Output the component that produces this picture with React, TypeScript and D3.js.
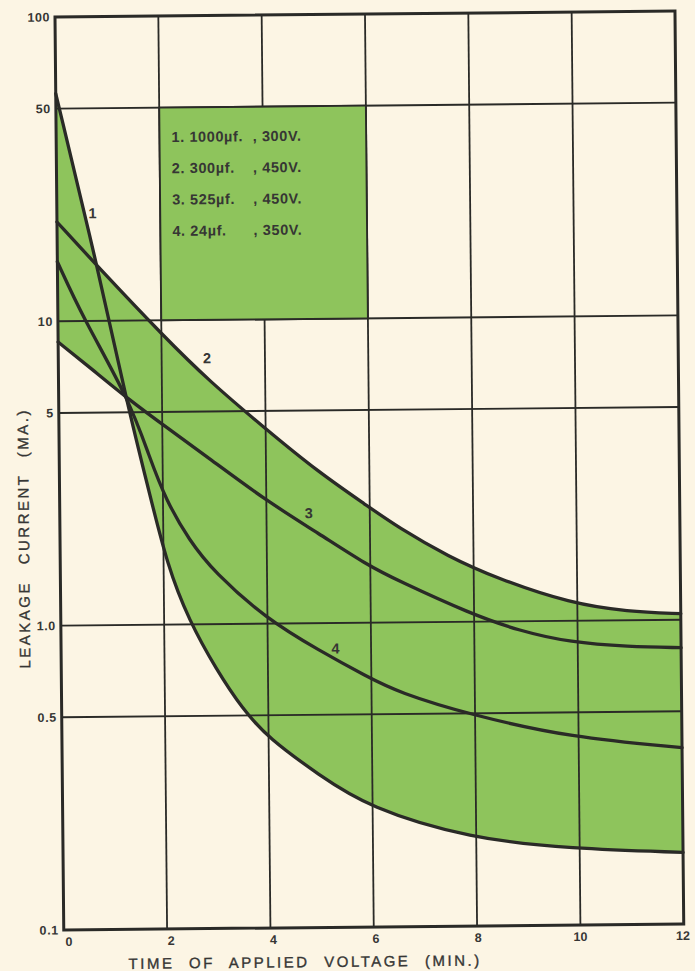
import React from "react";
import * as d3 from "d3";

// ---- data ----
const X_TICKS = [0, 2, 4, 6, 8, 10, 12];
const X_TICK_LABELS = ["0", "2", "4", "6", "8", "10", "12"];
const Y_TICKS = [100, 50, 10, 5, 1, 0.5, 0.1];
const Y_TICK_LABELS = ["100", "50", "10", "5", "1.0", "0.5", "0.1"];
const Y_GRID = [50, 10, 5, 1, 0.5];

const C1_T = [0, 0.78, 1.33, 1.74, 2.07, 2.48, 3.0, 3.5, 4.0, 4.96, 5.92, 7.88, 9.83, 12];
const C1_V = [56, 15.0, 5.28, 2.71, 1.57, 1.03, 0.71, 0.525, 0.42, 0.318, 0.247, 0.194, 0.178, 0.172];

const C2_T = [0, 0.78, 2.06, 2.92, 4.01, 5.02, 5.94, 6.55, 7.51, 8.47, 9.87, 10.97, 12];
const C2_V = [21.2, 15.1, 8.8, 6.29, 4.35, 3.13, 2.43, 2.05, 1.64, 1.38, 1.14, 1.067, 1.047];

const C3_T = [0, 0.6, 1.37, 2.08, 2.9, 3.99, 5.01, 5.93, 6.54, 7.92, 8.85, 9.87, 10.97, 12];
const C3_V = [8.55, 7.06, 5.48, 4.45, 3.51, 2.54, 1.97, 1.55, 1.37, 1.064, 0.932, 0.848, 0.819, 0.809];

const C4_T = [0, 0.48, 1.37, 1.74, 2.06, 2.5, 2.98, 3.97, 4.99, 5.91, 6.52, 7.9, 9.85, 12];
const C4_V = [15.7, 10.3, 5.48, 3.58, 2.56, 1.89, 1.48, 1.04, 0.814, 0.666, 0.589, 0.495, 0.413, 0.38];

const SERIES_T = [C1_T, C2_T, C3_T, C4_T];
const SERIES_V = [C1_V, C2_V, C3_V, C4_V];
const SERIES_IDS = ["1", "2", "3", "4"];
const SERIES_CAP = ["1000µf.", "300µf.", "525µf.", "24µf."];
const SERIES_VOLT = ["300V.", "450V.", "450V.", "350V."];
const LABEL_T = [0.69, 2.88, 4.82, 5.31];
const LABEL_V = [22.6, 7.48, 2.3, 0.825];

const LEGEND_T = [2, 6];
const LEGEND_V = [50, 10];

const X_TITLE = "TIME OF APPLIED VOLTAGE (MIN.)";
const Y_TITLE = "LEAKAGE CURRENT (MA.)";

// ---- layout / style ----
const W = 695;
const H = 971;
const OX = 55;
const OY = 17;
const TILT = -0.55;
const PW = 620;
const PH = 913;
const BG = "#fcf5e4";
const GREEN = "#8ec45c";
const INK = "#2a2a27";
const TEXT = "#363634";
const FONT = "'Liberation Sans', Arial, Helvetica, sans-serif";

type P = [number, number];

export default function App() {
  const x = d3.scaleLinear().domain([0, 12]).range([0, PW]);
  const y = d3.scaleLog().domain([0.1, 100]).range([PH, 0]);

  const series: P[][] = SERIES_T.map((ts, i) => ts.map((t, j) => [t, SERIES_V[i][j]] as P));

  const curve = d3.curveBasis;
  const line = d3
    .line<P>()
    .x((d) => x(d[0]))
    .y((d) => y(d[1]))
    .curve(curve);
  const below = d3
    .area<P>()
    .x((d) => x(d[0]))
    .y0(PH)
    .y1((d) => y(d[1]))
    .curve(curve);
  const above = d3
    .area<P>()
    .x((d) => x(d[0]))
    .y0(0)
    .y1((d) => y(d[1]))
    .curve(curve);

  const lgX0 = x(LEGEND_T[0]);
  const lgX1 = x(LEGEND_T[1]);
  const lgY0 = y(LEGEND_V[0]);
  const lgY1 = y(LEGEND_V[1]);

  return (
    <svg
      width={W}
      height={H}
      viewBox={`0 0 ${W} ${H}`}
      style={{ position: "absolute", left: 0, top: 0, display: "block" }}
    >
      <rect x={0} y={0} width={W} height={H} fill={BG} />
      <g transform={`translate(${OX},${OY}) rotate(${TILT})`}>
        <defs>
          <clipPath id="clipBelow">
            {series.map((s, i) => (
              <path key={i} d={below(s) || ""} />
            ))}
          </clipPath>
          <clipPath id="clipAbove">
            {series.map((s, i) => (
              <path key={i} d={above(s) || ""} />
            ))}
          </clipPath>
        </defs>

        {/* green band between the envelope of the curves */}
        <g clipPath="url(#clipBelow)">
          <rect x={0} y={0} width={PW} height={PH} fill={GREEN} clipPath="url(#clipAbove)" />
        </g>

        {/* grid */}
        {X_TICKS.slice(1, -1).map((t) => (
          <line key={"gx" + t} x1={x(t)} x2={x(t)} y1={0} y2={PH} stroke={INK} strokeWidth={1.8} />
        ))}
        {Y_GRID.map((v) => (
          <line key={"gy" + v} x1={0} x2={PW} y1={y(v)} y2={y(v)} stroke={INK} strokeWidth={1.9} />
        ))}

        {/* legend box (opaque over the grid) */}
        <rect
          x={lgX0}
          y={lgY0}
          width={lgX1 - lgX0}
          height={lgY1 - lgY0}
          fill={GREEN}
          stroke={INK}
          strokeWidth={1.9}
        />

        {/* frame */}
        <rect x={0} y={0} width={PW} height={PH} fill="none" stroke={INK} strokeWidth={3} />

        {/* curves */}
        {series.map((s, i) => (
          <path
            key={"c" + i}
            d={line(s) || ""}
            fill="none"
            stroke={INK}
            strokeWidth={3.3}
            strokeLinecap="round"
            strokeLinejoin="round"
          />
        ))}

        {/* curve labels */}
        {SERIES_IDS.map((id, i) => (
          <text
            key={"lb" + id}
            x={x(LABEL_T[i])}
            y={y(LABEL_V[i]) + 5}
            textAnchor="middle"
            fontFamily={FONT}
            fontWeight="bold"
            fontSize={14.5}
            fill={TEXT}
          >
            {id}
          </text>
        ))}

        {/* legend text */}
        {SERIES_IDS.map((id, i) => (
          <g key={"lg" + id} fontFamily={FONT} fontWeight="bold" fontSize={14.5} fill={TEXT}>
            <text x={lgX0 + 12} y={lgY0 + 34.5 + i * 31.3} letterSpacing={0.6}>
              {`${id}. ${SERIES_CAP[i]}`}
            </text>
            <text x={lgX0 + 142} y={lgY0 + 34.5 + i * 31.3} textAnchor="end" letterSpacing={0.6}>
              {`, ${SERIES_VOLT[i]}`}
            </text>
          </g>
        ))}

        {/* y tick labels */}
        {Y_TICKS.map((v, i) => (
          <text
            key={"yt" + v}
            x={-5}
            y={y(v) + 4.5}
            textAnchor="end"
            fontFamily={FONT}
            fontWeight="bold"
            fontSize={12.5}
            letterSpacing={0.6}
            fill={TEXT}
          >
            {Y_TICK_LABELS[i]}
          </text>
        ))}

        {/* x tick labels */}
        {X_TICKS.map((t, i) => (
          <text
            key={"xt" + t}
            x={x(t) + 5 - t * 0.5}
            y={PH + 16}
            textAnchor="middle"
            fontFamily={FONT}
            fontWeight="bold"
            fontSize={12.5}
            fill={TEXT}
          >
            {X_TICK_LABELS[i]}
          </text>
        ))}

        {/* axis titles */}
        <text
          x={241}
          y={PH + 39.6}
          textAnchor="middle"
          fontFamily={FONT}
          fontSize={15}
          letterSpacing={2.5}
          wordSpacing={8}
          fill={TEXT}
          stroke={TEXT}
          strokeWidth={0.35}
        >
          {X_TITLE}
        </text>
        <text
          transform={`translate(-31,521) rotate(-90)`}
          x={0}
          y={0}
          textAnchor="middle"
          fontFamily={FONT}
          fontSize={15}
          letterSpacing={2.5}
          wordSpacing={10}
          fill={TEXT}
          stroke={TEXT}
          strokeWidth={0.35}
        >
          {Y_TITLE}
        </text>
      </g>
    </svg>
  );
}
